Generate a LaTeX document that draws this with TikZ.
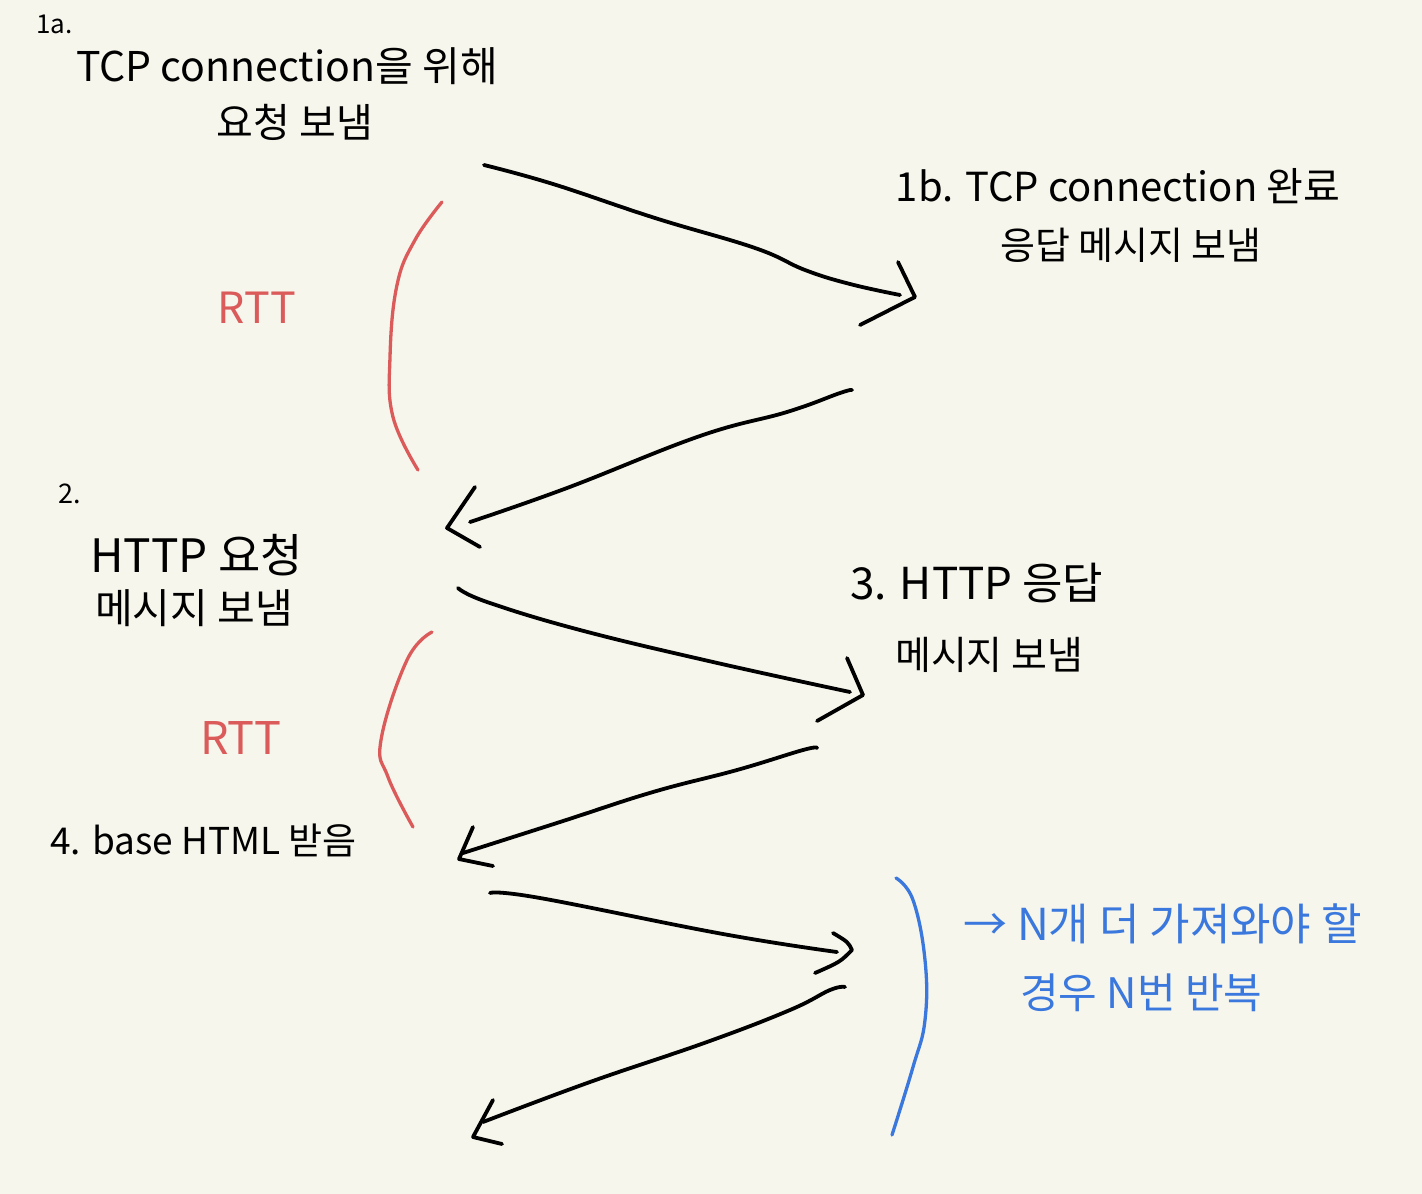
\documentclass[tikz,border=0pt]{standalone}
\usepackage{fontspec}
\setmainfont{Noto Sans CJK KR}
\definecolor{bg}{HTML}{F7F6EC}
\definecolor{rttred}{HTML}{DB5B5B}
\definecolor{noteblue}{HTML}{3A78DE}
\tikzset{
  hand/.style={line width=3.8pt, line cap=round, line join=round},
  pen/.style={hand, black},
  redpen/.style={hand, rttred, line width=3.3pt},
  bluepen/.style={hand, noteblue, line width=3.3pt},
  lbl/.style={inner sep=0pt, text=black},
}
\begin{document}
\begin{tikzpicture}[x=1pt,y=-1pt]
\fill[bg] (0,0) rectangle (1422,1194);
\useasboundingbox (0,0) rectangle (1422,1194);

% ---- texts ----
\node[lbl, anchor=west, font=\fontsize{26}{30}\selectfont] (n1a) at (36,24) {1a.};
\node[lbl, font=\fontsize{41}{48}\selectfont] (t1a) at (287,66) {TCP connection을 위해};
\node[lbl, font=\fontsize{40}{48}\selectfont] (t1a2) at (295,122) {요청 보냄};

\node[lbl, font=\fontsize{40}{48}\selectfont] (t1b) at (1118,186) {1b. TCP connection 완료};
\node[lbl, font=\fontsize{38}{44}\selectfont] (t1b2) at (1131,245) {응답 메시지 보냄};

\node[lbl, anchor=west, font=\fontsize{27}{32}\selectfont] (n2) at (58,494) {2.};
\node[lbl, anchor=west, font=\fontsize{46}{52}\selectfont] (t2) at (90,555) {HTTP 요청};
\node[lbl, anchor=west, font=\fontsize{41}{48}\selectfont] (t22) at (95,608) {메시지 보냄};

\node[lbl, anchor=west, font=\fontsize{44}{50}\selectfont] (t3) at (850,583) {3. HTTP 응답};
\node[lbl, anchor=west, font=\fontsize{39}{46}\selectfont] (t32) at (895,655) {메시지 보냄};

\node[lbl, anchor=west, font=\fontsize{37}{44}\selectfont] (t4) at (50,840) {4. base HTML 받음};

\node[lbl, text=rttred, font=\fontsize{43}{48}\selectfont] (rtt1) at (257,308) {RTT};
\node[lbl, text=rttred, font=\fontsize{45}{50}\selectfont] (rtt2) at (241,738) {RTT};

\node[lbl, anchor=west, text=noteblue, font=\fontsize{44}{50}\selectfont] (nb1) at (963,924) {→ N개 더 가져와야 할};
\node[lbl, anchor=west, text=noteblue, font=\fontsize{42}{48}\selectfont] (nb2) at (1020,993) {경우 N번 반복};

% ---- arrow end points ----
\coordinate (s1) at (484,165);
\coordinate (e1) at (915,297);
\coordinate (s2) at (852,390);
\coordinate (e2) at (447,528);
\coordinate (s3) at (458,588);
\coordinate (e3) at (863,695);
\coordinate (s4) at (817,748);
\coordinate (e4) at (459,859);
\coordinate (s5) at (490,893);
\coordinate (e5) at (852,950);
\coordinate (s6) at (845,987);
\coordinate (e6) at (473,1137);

% arrow 1
\draw[pen] plot[smooth, tension=0.7] coordinates {(s1) (553,184) (655,218) (755,248) (805,270) (850,284) (900,295)};
\draw[pen] (898,262) -- (e1) -- (860,325);
% arrow 2
\draw[pen] plot[smooth, tension=0.7] coordinates {(s2) (840,393) (787,412) (700,436) (567,488) (470,522)};
\draw[pen] (475,487) -- (e2) -- (480,547);
% arrow 3
\draw[pen] plot[smooth, tension=0.7] coordinates {(s3) (487,602) (580,630) (713,662) (850,692)};
\draw[pen] (847,658) -- (e3) -- (817,721);
% arrow 4
\draw[pen] plot[smooth, tension=0.7] coordinates {(s4) (803,750) (737,770) (653,792) (560,822) (463,853)};
\draw[pen] (473,827) -- (e4) -- (493,866);
% arrow 5
\draw[pen] plot[smooth, tension=0.7] coordinates {(s5) (540,898) (723,934) (837,952)};
\draw[pen] (833,933) .. controls (848,942) .. (e5) .. controls (840,962) .. (815,973);
% arrow 6
\draw[pen] plot[smooth, tension=0.7] coordinates {(s6) (830,990) (790,1010) (707,1042) (590,1082) (483,1122)};
\draw[pen] (493,1100) -- (e6) -- (502,1144);

% ---- RTT brackets ----
\draw[redpen] plot[smooth, tension=0.7] coordinates {(442,202) (415,240) (397,285) (390,357) (393,417) (418,470)};
\draw[redpen] plot[smooth, tension=0.7] coordinates {(432,632) (407,660) (381,740) (388,777) (413,827)};
% ---- blue bracket ----
\draw[bluepen] plot[smooth, tension=0.7] coordinates {(896,878) (913,900) (925,960) (925,1020) (913,1067) (892,1135)};
\end{tikzpicture}
\end{document}
